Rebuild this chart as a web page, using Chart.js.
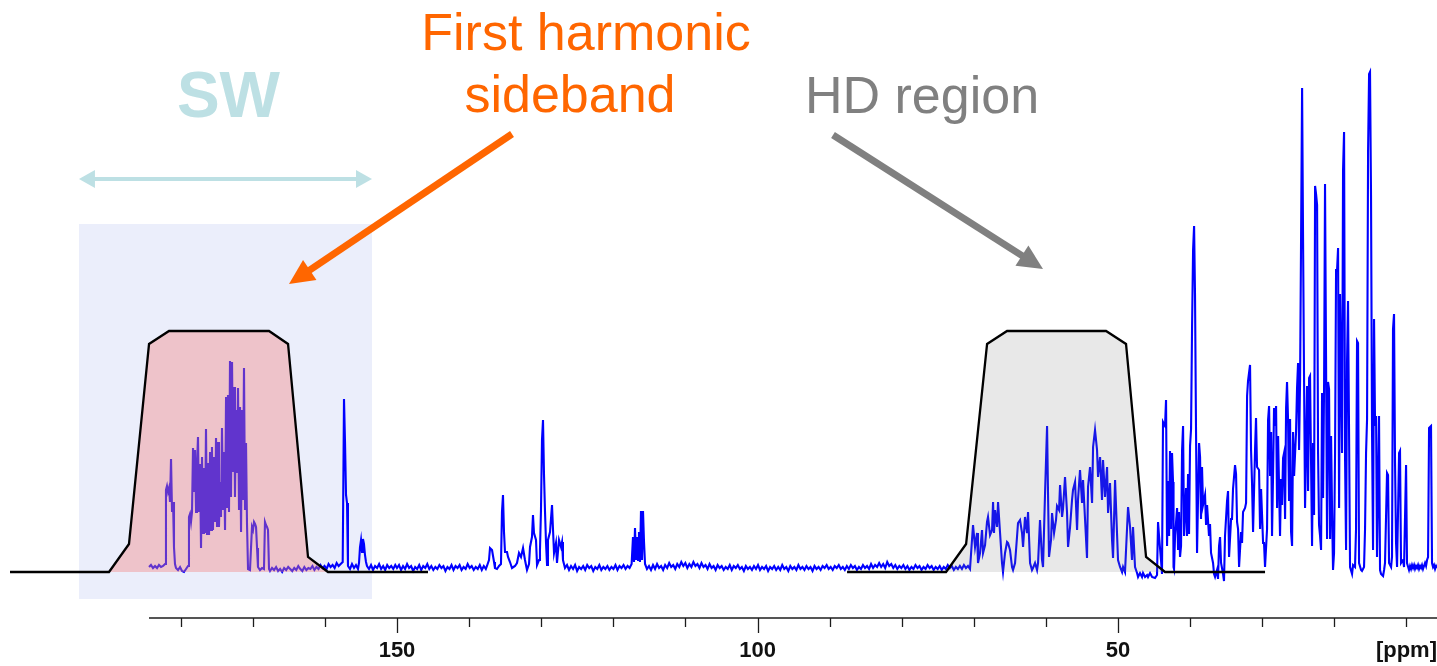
<!DOCTYPE html>
<html>
<head>
<meta charset="utf-8">
<title>13C spectrum</title>
<script src="https://cdn.jsdelivr.net/npm/chart.js@4.4.1/dist/chart.umd.min.js"></script>
<style>
  html, body { margin: 0; padding: 0; background: #fff; }
  #wrap { width: 1437px; height: 666px; position: relative; }
</style>
</head>
<body>
<div id="wrap"><canvas id="spectrum"></canvas></div>
<script>
// spectrum as [ppm, intensity] pairs, split by region
const sidebandPeaks = [
  [184.39,5],[184.12,7],[183.84,4],[183.56,6],[183.28,4],[183.01,7],[182.73,5],[182.45,6],[182.17,8],
  [182.04,82],[181.90,86],[181.76,80],[181.62,84],[181.48,70],[181.34,113],[181.20,60],[181.06,70],[180.93,25],
  [180.79,8],[180.65,4],[180.37,2],[180.09,5],[179.82,1],[179.54,0],[179.26,3],[178.98,6],
  [178.85,55],[178.71,58],[178.57,50],[178.43,60],[178.29,124],[178.15,80],[178.01,122],[177.87,60],[177.74,105],
  [177.60,135],[177.46,60],[177.32,108],[177.18,24],[177.04,115],[176.90,39],[176.77,104],[176.63,39],[176.49,143],
  [176.35,37],[176.21,109],[176.07,37],[175.93,120],[175.79,42],[175.66,125],[175.52,42],[175.38,115],[175.24,50],
  [175.10,134],[174.96,45],[174.82,130],[174.69,45],[174.55,90],[174.41,55],[174.27,144],[174.13,62],[173.99,120],
  [173.85,42],[173.71,175],[173.57,65],[173.44,177],[173.30,60],[173.16,211],[173.02,75],[172.88,210],[172.74,100],
  [172.60,185],[172.47,75],[172.33,162],[172.19,99],[172.05,184],[171.91,62],[171.77,165],[171.63,40],[171.49,162],
  [171.36,72],[171.22,204],[171.08,62],[170.94,129],[170.80,47],[170.66,3],[170.39,2],
  [170.11,45],[169.97,42],[169.83,50],[169.69,48],[169.55,45],[169.41,24],[169.28,5],[169.00,2],[168.72,4],[168.45,3],
  [168.31,50],[168.17,47],[168.03,45],[167.89,42],[167.75,3],
  [167.61,1],[167.33,4],[167.05,2],[166.77,5],[166.49,1],[166.21,3],[165.93,0],[165.65,4],[165.37,2],[165.09,5],
  [164.81,3],[164.53,1],[164.25,4],[163.97,2],[163.69,6],[163.41,3],[163.13,1],[162.85,5],[162.57,2],[162.29,4],
  [162.01,3],[161.73,6],[161.45,2],[161.17,5],[160.89,3],[160.61,7],[160.33,4],[160.05,6],[159.77,3],[159.49,8],
  [159.21,5],[158.93,7],[158.65,4],[158.37,9],[158.09,6],[157.81,8],[157.53,10],
  [157.35,173],[157.21,130],[157.07,77],[156.93,69],[156.80,6],[156.52,3],[156.24,8],[155.96,4],[155.69,7],[155.41,3],
  [155.27,9],[155.13,25],[154.99,32],[154.85,20],[154.72,33],[154.58,28],[154.44,17],[154.30,10],
  [154.16,6],[153.88,3],[153.60,7],[153.32,2],[153.04,6],[152.76,4],[152.48,8],[152.20,3],[151.92,6],[151.64,2],
  [151.36,7],[151.08,4],[150.80,6],[150.52,3],[150.24,7]
];

const aromaticPeaks = [
  [150.00,4],[149.72,7],[149.44,2],[149.16,6],[148.88,3],[148.60,8],[148.32,4],[148.04,6],[147.76,1],[147.48,5],
  [147.20,3],[146.92,7],[146.64,2],[146.36,6],[146.08,4],[145.80,8],[145.52,3],[145.24,6],[144.96,2],[144.68,5],
  [144.40,3],[144.12,7],[143.84,4],[143.56,6],[143.28,1],[143.00,5],[142.72,3],[142.44,7],[142.16,2],[141.88,6],
  [141.60,4],[141.32,7],[141.04,2],[140.76,5],[140.48,3],[140.20,8],[139.92,4],[139.64,6],[139.36,2],[139.08,5],
  [138.80,3],[138.52,7],[138.24,2],[137.96,6],[137.68,3],
  [137.52,6],[137.24,12],[137.10,24],[136.82,22],[136.54,10],[136.41,4],[136.13,3],
  [135.85,6],[135.58,8],[135.44,60],[135.30,77],[135.16,40],[135.02,20],[134.74,20],[134.60,15],[134.33,10],[134.05,4],
  [133.63,6],[133.36,9],[133.08,19],[132.80,15],[132.52,24],[132.25,12],[131.97,2],[131.69,8],[131.55,25],[131.28,35],
  [131.14,57],[131.00,39],[130.72,32],[130.58,7],[130.30,12],[130.17,22],[130.03,62],[129.89,132],[129.75,152],[129.61,97],
  [129.47,60],[129.33,29],[129.19,7],[129.06,32],[128.78,40],[128.50,67],[128.36,42],[128.22,19],[127.95,29],[127.81,9],
  [127.53,32],[127.25,25],[127.11,30],[126.98,12],
  [126.70,4],[126.42,7],[126.14,2],[125.86,6],[125.58,3],[125.30,7],[125.02,1],[124.74,5],[124.46,3],[124.18,6],
  [123.90,2],[123.62,7],[123.34,4],[123.06,6],[122.78,1],[122.50,5],[122.22,3],[121.94,7],[121.66,2],[121.38,5],
  [121.10,3],[120.82,6],[120.54,2],[120.26,5],[119.98,3],[119.70,7],[119.42,2],[119.14,6],[118.86,4],[118.58,7],
  [118.30,3],[118.02,6],[117.74,4],[117.46,8],
  [117.27,35],[117.13,10],[116.99,44],[116.85,12],[116.71,35],[116.57,12],[116.44,40],[116.30,10],
  [116.16,61],[116.02,12],[115.88,61],[115.74,30],[115.60,8],[115.33,3],
  [115.05,6],[114.77,2],[114.49,7],[114.21,3],[113.93,8],[113.65,4],[113.37,6],[113.09,2],[112.81,7],[112.53,4],
  [112.25,9],[111.97,5],[111.69,7],[111.41,3],[111.13,8],[110.85,5],[110.57,10],[110.29,6],[110.01,9],[109.73,4],
  [109.45,8],[109.17,5],[108.89,10],[108.61,6],[108.33,8],[108.05,4],[107.77,9],[107.49,5],[107.21,7],[106.93,3],
  [106.65,8],[106.37,4],[106.09,6],[105.81,2],[105.53,7],[105.25,4],[104.97,6],[104.69,2],[104.41,5],[104.13,3],
  [103.85,7],[103.57,2],[103.29,6],[103.01,4],[102.73,7],[102.45,3],[102.17,5],[101.89,1],[101.61,6],[101.33,3],
  [101.05,5],[100.77,2],[100.49,6],[100.21,3],[99.93,7],[99.65,2],[99.37,5],[99.09,3],[98.81,6],[98.53,1],
  [98.25,5],[97.97,3],[97.69,6],[97.41,2],[97.13,5],[96.85,2],[96.57,7],[96.29,3],[96.01,5],[95.73,1],
  [95.45,6],[95.17,3],[94.89,5],[94.61,2],[94.33,7],[94.05,3],[93.77,5],[93.49,2],[93.21,6],[92.93,3],
  [92.65,5],[92.37,1],[92.09,6],[91.81,3],[91.53,5],[91.25,2],[90.97,6],[90.69,4],[90.41,7],[90.13,3],
  [89.85,5],[89.57,2],[89.29,6],[89.01,4],[88.73,7],[88.45,3],[88.17,5],[87.89,2],[87.61,6],[87.33,3],
  [87.05,7],[86.77,4],[86.49,6],[86.21,2],[85.93,5],[85.65,3],[85.37,7],[85.09,4],[84.81,6],[84.53,3],
  [84.25,8],[83.97,4],[83.69,7],[83.41,5],[83.13,9],[82.85,5],[82.57,8],[82.29,4],[82.01,10],[81.73,6],
  [81.45,8],[81.17,4],[80.89,7],[80.61,3],[80.33,6],[80.05,4],[79.77,7],[79.49,3],[79.21,6],[78.93,2],
  [78.65,5],[78.37,3],[78.09,7],[77.81,4],[77.53,6],[77.25,2],[76.97,5],[76.69,3],[76.41,7],[76.13,4],
  [75.85,6],[75.57,2],[75.29,5],[75.01,3],[74.73,6],[74.45,2],[74.17,5],[73.89,3],[73.61,7],[73.33,4],
  [73.05,6],[72.77,2],[72.49,5],[72.21,3],[71.93,6],[71.65,3],[71.37,7],[71.09,4],[70.81,6],[70.53,3]
];

const hdRegionPeaks = [
  [70.11,47],[69.83,25],[69.55,39],[69.42,9],[69.14,19],[68.86,42],[68.72,19],[68.44,27],[68.17,50],[68.03,55],
  [67.75,37],[67.47,42],[67.33,70],[67.20,39],[67.06,62],[66.78,45],[66.64,70],[66.36,39],[66.09,9],[65.95,0],
  [65.67,19],[65.39,30],[65.25,29],[64.98,22],[64.70,5],[64.56,2],[64.28,9],[64.01,35],[63.87,49],[63.59,52],
  [63.31,39],[63.17,25],[62.90,55],[62.62,39],[62.48,60],[62.20,9],[61.93,2],[61.79,4],[61.51,9],[61.23,2],
  [61.09,9],[60.82,52],[60.54,12],[60.40,5],[60.12,79],[59.84,146],[59.71,79],[59.57,15],[59.29,32],[59.15,59],
  [58.87,39],[58.60,52],[58.46,66],[58.18,62],[58.04,87],[57.76,55],[57.63,63],[57.35,95],[57.07,59],[56.93,25],
  [56.65,45],[56.38,72],[56.24,82],[55.96,90],[55.68,42],[55.55,72],[55.27,102],[54.99,69],[54.85,92],[54.57,52],
  [54.30,14],[54.16,85],[53.88,105],[53.60,69],[53.46,125],[53.19,142],[52.91,122],[52.77,95],[52.49,115],[52.22,72],
  [52.08,112],[51.80,75],[51.52,105],[51.38,59],[51.11,89],[50.83,32],[50.69,14],[50.41,92],[50.14,39],[50.00,12],
  [49.72,5],[49.44,0],[49.30,5],[49.03,0],[48.61,65],[48.33,45],[48.06,12],[47.92,45],[47.64,5],[47.36,-1],
  [47.22,-5],[46.95,-1],[46.67,-5],[46.53,-1],[46.25,-5],[45.97,-3],[45.84,-5],[45.56,-1],[45.28,-5],[44.87,-6],
  [44.59,-3]
];

const aliphaticPeaks = [
  [44.45,50],[44.31,36],[44.04,12],[43.90,-2],[43.76,150],[43.48,146],[43.34,172],[43.20,26],[43.06,91],[42.92,36],
  [42.79,121],[42.65,43],[42.51,119],[42.37,90],[42.30,5],[42.23,3],[42.09,36],[41.81,64],[41.67,22],[41.54,60],
  [41.40,15],[41.26,26],[41.12,121],[40.98,146],[40.84,36],[40.56,84],[40.43,36],[40.29,98],[40.15,38],[40.01,126],
  [39.87,143],[39.73,246],[39.59,322],[39.45,346],[39.32,276],[39.18,140],[39.04,19],[38.76,129],[38.62,115],[38.49,53],
  [38.35,105],[38.21,67],[37.93,77],[37.79,47],[37.65,67],[37.38,36],[37.24,48],[37.10,19],[36.82,9],[36.68,-2],
  [36.54,-5],[36.27,2],[36.13,-7],[35.99,26],[35.85,35],[35.71,9],[35.43,-2],[35.30,-9],[35.16,36],[34.88,71],
  [34.74,81],[34.60,15],[34.32,53],[34.19,53],[34.05,83],[33.77,107],[33.63,98],[33.49,50],[33.35,43],[33.21,5],
  [32.94,40],[32.80,29],[32.66,60],[32.38,64],[32.24,69],[32.10,176],[31.97,191],[31.69,207],[31.55,122],[31.41,88],
  [31.27,40],[30.99,124],[30.86,154],[30.72,105],[30.44,102],[30.30,43],[30.16,83],[29.88,29],[29.75,29],[29.61,5],
  [29.33,43],[29.19,152],[29.05,166],[28.91,96],[28.77,140],[28.64,36],[28.50,96],[28.36,164],[28.22,146],[28.08,166],
  [27.94,64],[27.80,136],[27.53,36],[27.39,93],[27.25,67],[27.11,114],[26.97,119],[26.83,53],[26.69,164],[26.56,190],
  [26.42,153],[26.28,71],[26.14,153],[26.00,40],[25.86,26],[25.72,140],[25.58,96],[25.31,140],[25.17,184],[25.03,209],
  [24.89,122],[24.75,191],[24.61,336],[24.47,484],[24.34,336],[24.20,195],[24.06,64],[23.78,186],[23.64,81],[23.50,194],
  [23.37,196],[23.09,26],[22.95,129],[22.81,57],[22.67,386],[22.53,378],[22.39,367],[22.26,122],[22.12,47],[21.98,36],
  [21.84,22],[21.70,179],[21.56,74],[21.42,188],[21.29,388],[21.15,216],[21.01,33],[20.87,190],[20.73,183],[20.59,33],
  [20.45,136],[20.32,64],[20.18,2],[20.04,19],[19.90,119],[19.76,302],[19.62,302],[19.48,324],[19.34,64],[19.21,278],
  [19.07,202],[18.93,119],[18.79,402],[18.65,440],[18.51,112],[18.37,22],[18.24,209],[18.10,271],[17.96,143],[17.82,5],
  [17.54,-2],[17.40,7],[17.13,5],[16.99,43],[16.85,231],[16.71,229],[16.57,9],[16.29,2],[16.16,1],[15.88,5],
  [15.74,43],[15.60,119],[15.46,153],[15.32,421],[15.18,498],[15.05,500],[14.91,376],[14.77,140],[14.63,22],[14.49,253],
  [14.35,146],[14.21,156],[14.08,15],[13.80,156],[13.66,2],[13.52,-2],[13.24,-4],[13.10,2],[12.97,9],[12.69,99],
  [12.55,97],[12.41,9],[12.13,5],[12.00,15],[11.86,243],[11.72,258],[11.58,109],[11.44,29],[11.30,5],[11.02,119],
  [10.89,121],[10.75,9],[10.47,12],[10.33,5],[10.05,107],[9.92,9],[9.64,2],[9.50,6],[9.36,3],[9.22,7],
  [9.08,4],[8.94,7],[8.81,3],[8.67,6],[8.53,4],[8.39,7],[8.25,3],[8.11,6],[7.97,4],[7.84,7],
  [7.70,3],[7.56,6],[7.42,9],[7.28,6],[7.14,12],[7.00,15],[6.86,144],[6.59,146],[6.45,9],[6.31,5],
  [6.17,7],[6.03,3],[5.89,6],[5.76,4]
];

// excitation window outlines [ppm, height]
const sidebandWindow = [
  [203.67,0],[189.94,0],[187.17,28],[184.39,228],[181.62,241],[167.75,241],[165.11,228],[162.34,15],[159.57,0],[145.70,0]
];
const hdWindow = [
  [87.58,0],[73.85,0],[71.07,28],[68.16,228],[65.39,241],[51.66,241],[48.89,228],[46.11,15],[43.48,0],[29.61,0]
];

// spectral width box
const swRange = [194.11, 153.47];
const swHeight = [-27, 348];

// axis
const xMin = 5.76;
const xMax = 205.06;
const axisStart = 184.4;
const tickValues = [180, 170, 160, 150, 140, 130, 120, 110, 100, 90, 80, 70, 60, 50, 40, 30, 20, 10];
const tickLabels = { 150: '150', 100: '100', 50: '50', 10: '[ppm]' };

const toXY = pts => pts.map(([x, y]) => ({ x, y }));
const spectrum = [].concat(sidebandPeaks, aromaticPeaks, hdRegionPeaks, aliphaticPeaks);

function drawArrowHead(ctx, x, y, ang, len, half) {
  const bx = x - len * Math.cos(ang), by = y - len * Math.sin(ang);
  ctx.beginPath();
  ctx.moveTo(x, y);
  ctx.lineTo(bx + half * Math.sin(ang), by - half * Math.cos(ang));
  ctx.lineTo(bx - half * Math.sin(ang), by + half * Math.cos(ang));
  ctx.closePath();
  ctx.fill();
  return [bx, by];
}

function drawArrow(ctx, x1, y1, x2, y2, width, len, half, color) {
  const ang = Math.atan2(y2 - y1, x2 - x1);
  ctx.fillStyle = color;
  const [bx, by] = drawArrowHead(ctx, x2, y2, ang, len, half);
  ctx.strokeStyle = color;
  ctx.lineWidth = width;
  ctx.lineCap = 'butt';
  ctx.beginPath();
  ctx.moveTo(x1, y1);
  ctx.lineTo(bx + Math.cos(ang), by + Math.sin(ang));
  ctx.stroke();
}

// ppm axis: line starts at axisStart, long ticks every 50 ppm
const ppmAxis = {
  id: 'ppmAxis',
  afterDatasetsDraw(chart) {
    const { ctx, chartArea } = chart;
    const xs = chart.scales.x;
    const y0 = chartArea.bottom;
    ctx.save();
    ctx.strokeStyle = '#1c1c1c';
    ctx.lineWidth = 1.5;
    ctx.beginPath();
    ctx.moveTo(xs.getPixelForValue(axisStart), y0);
    ctx.lineTo(chartArea.right, y0);
    ctx.stroke();
    ctx.lineWidth = 1.3;
    xs.ticks.forEach(t => {
      const px = Math.round(xs.getPixelForValue(t.value)) + 0.5;
      const len = t.value % 50 === 0 ? 15 : 9;
      ctx.beginPath();
      ctx.moveTo(px, y0);
      ctx.lineTo(px, y0 + len);
      ctx.stroke();
    });
    ctx.restore();
  }
};

// labels and arrows
const notes = {
  id: 'notes',
  afterDraw(chart) {
    const { ctx } = chart;
    const xs = chart.scales.x;
    ctx.save();

    // SW span
    const teal = '#bde0e4';
    const left = xs.getPixelForValue(swRange[0]);
    const right = xs.getPixelForValue(swRange[1]);
    ctx.fillStyle = teal;
    drawArrowHead(ctx, left, 179, Math.PI, 16, 9);
    drawArrowHead(ctx, right, 179, 0, 16, 9);
    ctx.strokeStyle = teal;
    ctx.lineWidth = 4;
    ctx.beginPath();
    ctx.moveTo(left + 15, 179);
    ctx.lineTo(right - 15, 179);
    ctx.stroke();
    ctx.font = 'bold 64px "Liberation Sans", Arial, sans-serif';
    ctx.textAlign = 'center';
    ctx.textBaseline = 'alphabetic';
    ctx.fillText('SW', (left + right) / 2 + 3, 117);

    // first harmonic sideband
    ctx.fillStyle = '#ff6600';
    ctx.font = '52px "Liberation Sans", Arial, sans-serif';
    ctx.fillText('First harmonic', 586, 50);
    ctx.fillText('sideband', 570, 112);
    drawArrow(ctx, 512, 134, 289, 284, 7, 25, 12, '#ff6600');

    // HD region
    ctx.fillStyle = '#808080';
    ctx.textAlign = 'left';
    ctx.fillText('HD region', 805, 113);
    drawArrow(ctx, 833, 135, 1043, 269, 7, 25, 12, '#808080');

    ctx.restore();
  }
};

new Chart(document.getElementById('spectrum'), {
  type: 'line',
  data: {
    datasets: [
      {
        data: toXY(spectrum),
        borderColor: '#0000ff',
        borderWidth: 2.1,
        pointRadius: 0,
        fill: false,
        order: 2
      },
      {
        data: [{ x: swRange[0], y: swHeight[1] }, { x: swRange[1], y: swHeight[1] }],
        borderWidth: 0,
        borderColor: 'rgba(0,0,0,0)',
        backgroundColor: '#ebeefb',
        fill: { value: swHeight[0] },
        pointRadius: 0,
        order: 3
      },
      {
        data: toXY(sidebandWindow),
        borderColor: '#000',
        borderWidth: 2.3,
        backgroundColor: 'rgba(242,129,129,0.40)',
        fill: 'origin',
        pointRadius: 0,
        order: 1
      },
      {
        data: toXY(hdWindow),
        borderColor: '#000',
        borderWidth: 2.3,
        backgroundColor: 'rgba(128,128,128,0.18)',
        fill: 'origin',
        pointRadius: 0,
        order: 1
      }
    ]
  },
  options: {
    responsive: true,
    maintainAspectRatio: false,
    animation: false,
    events: [],
    layout: { padding: 0 },
    plugins: { legend: { display: false }, tooltip: { enabled: false } },
    scales: {
      x: {
        type: 'linear',
        reverse: true,
        min: xMin,
        max: xMax,
        grid: { display: false, drawTicks: false },
        border: { display: false },
        afterBuildTicks: s => { s.ticks = tickValues.map(v => ({ value: v })); },
        afterFit: s => { s.height = 48; s.paddingLeft = 0; s.paddingRight = 0; },
        ticks: {
          autoSkip: false,
          maxRotation: 0,
          minRotation: 0,
          padding: 20,
          color: '#111',
          font: { family: '"Liberation Sans", Arial, sans-serif', weight: 'bold', size: 22 },
          callback: v => tickLabels[v] || ''
        }
      },
      y: { display: false, min: -46, max: 572 }
    }
  },
  plugins: [ppmAxis, notes]
});
</script>
</body>
</html>
